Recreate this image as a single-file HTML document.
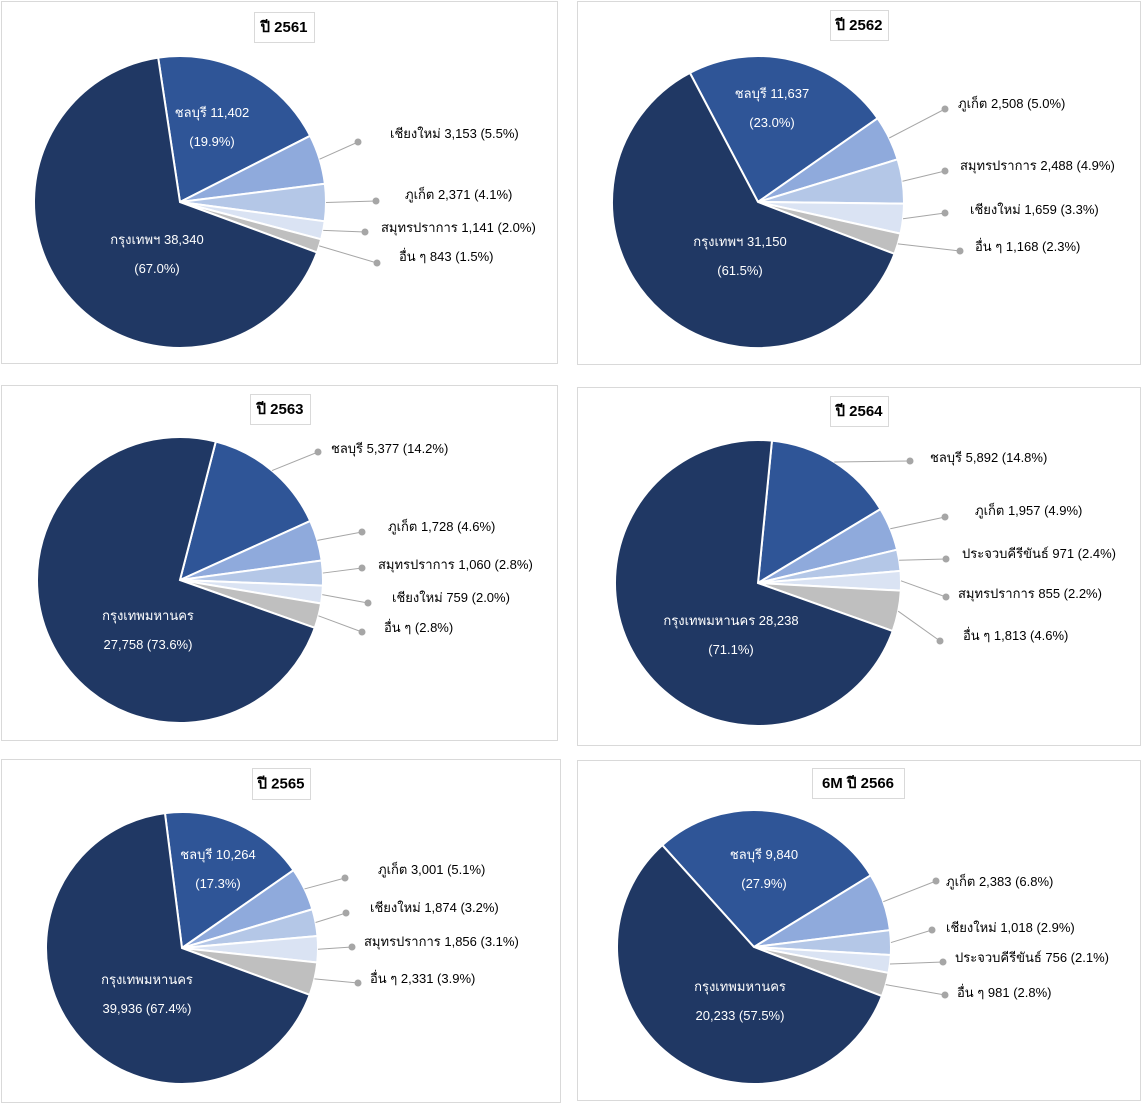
<!DOCTYPE html>
<html><head><meta charset="utf-8">
<style>
html,body{margin:0;padding:0;background:#fff;}
svg{display:block;font-family:"Liberation Sans","DejaVu Sans","Noto Sans CJK SC",sans-serif;}
</style></head>
<body>
<svg id="root" width="1141" height="1103" viewBox="0 0 1141 1103" xmlns="http://www.w3.org/2000/svg"></svg>
<script>
// ---- data (percent shares, clockwise from Chonburi) ----
const c1Names = ["ชลบุรี","เชียงใหม่","ภูเก็ต","สมุทรปราการ","อื่น ๆ","กรุงเทพฯ"];
const c1Values = [19.9,5.5,4.1,2.0,1.5,67.0];
const c1Labels = ["","เชียงใหม่ 3,153 (5.5%)","ภูเก็ต 2,371 (4.1%)","สมุทรปราการ 1,141 (2.0%)","อื่น ๆ 843 (1.5%)",""];
const c1Inner = [["ชลบุรี 11,402","(19.9%)"],null,null,null,null,["กรุงเทพฯ 38,340","(67.0%)"]];

const c2Names = ["ชลบุรี","ภูเก็ต","สมุทรปราการ","เชียงใหม่","อื่น ๆ","กรุงเทพฯ"];
const c2Values = [23.0,5.0,4.9,3.3,2.3,61.5];
const c2Labels = ["","ภูเก็ต 2,508 (5.0%)","สมุทรปราการ 2,488 (4.9%)","เชียงใหม่ 1,659 (3.3%)","อื่น ๆ 1,168 (2.3%)",""];
const c2Inner = [["ชลบุรี 11,637","(23.0%)"],null,null,null,null,["กรุงเทพฯ 31,150","(61.5%)"]];

const c3Names = ["ชลบุรี","ภูเก็ต","สมุทรปราการ","เชียงใหม่","อื่น ๆ","กรุงเทพมหานคร"];
const c3Values = [14.2,4.6,2.8,2.0,2.8,73.6];
const c3Labels = ["ชลบุรี 5,377 (14.2%)","ภูเก็ต 1,728 (4.6%)","สมุทรปราการ 1,060 (2.8%)","เชียงใหม่ 759 (2.0%)","อื่น ๆ (2.8%)",""];
const c3Inner = [null,null,null,null,null,["กรุงเทพมหานคร","27,758 (73.6%)"]];

const c4Names = ["ชลบุรี","ภูเก็ต","ประจวบคีรีขันธ์","สมุทรปราการ","อื่น ๆ","กรุงเทพมหานคร"];
const c4Values = [14.8,4.9,2.4,2.2,4.6,71.1];
const c4Labels = ["ชลบุรี 5,892 (14.8%)","ภูเก็ต 1,957 (4.9%)","ประจวบคีรีขันธ์ 971 (2.4%)","สมุทรปราการ 855 (2.2%)","อื่น ๆ 1,813 (4.6%)",""];
const c4Inner = [null,null,null,null,null,["กรุงเทพมหานคร 28,238","(71.1%)"]];

const c5Names = ["ชลบุรี","ภูเก็ต","เชียงใหม่","สมุทรปราการ","อื่น ๆ","กรุงเทพมหานคร"];
const c5Values = [17.3,5.1,3.2,3.1,3.9,67.4];
const c5Labels = ["","ภูเก็ต  3,001  (5.1%)","เชียงใหม่  1,874  (3.2%)","สมุทรปราการ  1,856  (3.1%)","อื่น ๆ 2,331 (3.9%)",""];
const c5Inner = [["ชลบุรี  10,264","(17.3%)"],null,null,null,null,["กรุงเทพมหานคร","39,936  (67.4%)"]];

const c6Names = ["ชลบุรี","ภูเก็ต","เชียงใหม่","ประจวบคีรีขันธ์","อื่น ๆ","กรุงเทพมหานคร"];
const c6Values = [27.9,6.8,2.9,2.1,2.8,57.5];
const c6Labels = ["","ภูเก็ต  2,383  (6.8%)","เชียงใหม่  1,018  (2.9%)","ประจวบคีรีขันธ์  756  (2.1%)","อื่น ๆ 981 (2.8%)",""];
const c6Inner = [["ชลบุรี  9,840","(27.9%)"],null,null,null,null,["กรุงเทพมหานคร","20,233  (57.5%)"]];

const colors = ["#2F5597","#8FAADC","#B4C7E7","#DAE3F3","#BFBFBF","#203864"];
const NS = "http://www.w3.org/2000/svg";
const root = document.getElementById('root');
function mk(tag, attrs, parent){const e=document.createElementNS(NS,tag);for(const k in attrs)e.setAttribute(k,attrs[k]);parent.appendChild(e);return e;}

const layouts = [
 {names:c1Names,values:c1Values,labels:c1Labels,inner:c1Inner,title:"ปี 2561",panel:[1,1,556,362],tb:[254,12,60,30],cx:180,cy:202,r:146,start:-8.6,
  dots:[null,[358,142],[376,201],[365,232],[377,263]],txt:[null,[390,138],[405,199],[381,232],[399,261]],
  inPos:[[212,117],null,null,null,null,[157,244]]},
 {names:c2Names,values:c2Values,labels:c2Labels,inner:c2Inner,title:"ปี 2562",panel:[577,1,563,363],tb:[830,10,58,30],cx:758,cy:202,r:146,start:-27.8,
  dots:[null,[945,109],[945,171],[945,213],[960,251]],txt:[null,[958,108],[960,170],[970,214],[975,251]],
  inPos:[[772,98],null,null,null,null,[740,246]]},
 {names:c3Names,values:c3Values,labels:c3Labels,inner:c3Inner,title:"ปี 2563",panel:[1,385,556,355],tb:[250,394,60,30],cx:180,cy:580,r:143,start:14.5,
  dots:[[318,452],[362,532],[362,568],[368,603],[362,632]],txt:[[331,453],[388,531],[378,569],[392,602],[384,632]],
  inPos:[null,null,null,null,null,[148,620]]},
 {names:c4Names,values:c4Values,labels:c4Labels,inner:c4Inner,title:"ปี 2564",panel:[577,387,563,358],tb:[830,396,58,30],cx:758,cy:583,r:143,start:5.6,
  dots:[[910,461],[945,517],[946,559],[946,597],[940,641]],txt:[[930,462],[975,515],[962,558],[958,598],[963,640]],
  inPos:[null,null,null,null,null,[731,625]]},
 {names:c5Names,values:c5Values,labels:c5Labels,inner:c5Inner,title:"ปี 2565",panel:[1,759,559,343],tb:[252,768,58,31],cx:182,cy:948,r:136,start:-7.2,
  dots:[null,[345,878],[346,913],[352,947],[358,983]],txt:[null,[378,874],[370,912],[364,946],[370,983]],
  inPos:[[218,859],null,null,null,null,[147,984]]},
 {names:c6Names,values:c6Values,labels:c6Labels,inner:c6Inner,title:"6M ปี 2566",panel:[577,760,563,340],tb:[812,768,92,30],cx:754,cy:947,r:137,start:-42,
  dots:[null,[936,881],[932,930],[943,962],[945,995]],txt:[null,[946,886],[946,932],[955,962],[957,997]],
  inPos:[[764,859],null,null,null,null,[740,991]]}
];

function pt(cx,cy,r,deg){const a=(deg-90)*Math.PI/180;return [cx+r*Math.cos(a),cy+r*Math.sin(a)];}

layouts.forEach((L,ci)=>{
  const g=mk('g',{},root);
  
  
  const pn=mk('rect',{x:L.panel[0]+.5,y:L.panel[1]+.5,width:L.panel[2],height:L.panel[3],fill:'#fff',stroke:'#d9d9d9'},g);
  
  
  const tb=mk('rect',{x:L.tb[0]+.5,y:L.tb[1]+.5,width:L.tb[2],height:L.tb[3],fill:'#fff',stroke:'#d9d9d9'},g);
  
  
  const tt=mk('text',{x:L.tb[0]+L.tb[2]/2,y:L.tb[1]+L.tb[3]/2+5,'text-anchor':'middle','font-size':15,'font-weight':'bold',fill:'#000'},g);
  tt.textContent=L.title;
  
  
  const total=L.values.reduce((a,b)=>a+b,0);
  let ang=L.start;
  L.values.forEach((v,i)=>{
    const sweep=v/total*360;
    const p0=pt(L.cx,L.cy,L.r,ang), p1=pt(L.cx,L.cy,L.r,ang+sweep);
    const large=sweep>180?1:0;
    const s=mk('path',{d:`M${L.cx},${L.cy}L${p0[0]},${p0[1]}A${L.r},${L.r} 0 ${large} 1 ${p1[0]},${p1[1]}Z`,fill:colors[i],stroke:'#fff','stroke-width':2},g);
    
    
    const mid=ang+sweep/2;
    if(L.dots[i]){
      const e=pt(L.cx,L.cy,L.r,mid);
      const ln=mk('line',{x1:e[0],y1:e[1],x2:L.dots[i][0],y2:L.dots[i][1],stroke:'#a6a6a6','stroke-width':1},g);
      
      
      const d=mk('circle',{cx:L.dots[i][0],cy:L.dots[i][1],r:3.5,fill:'#a6a6a6'},g);
      
      
      const t=mk('text',{x:L.txt[i][0],y:L.txt[i][1],'font-size':13,fill:'#000'},g);
      t.textContent=L.labels[i];
      
      
    }
    if(L.inner[i]){
      L.inner[i].forEach((line,k)=>{
        const t=mk('text',{x:L.inPos[i][0],y:L.inPos[i][1]+k*29,'text-anchor':'middle','font-size':13,fill:'#fff'},g);
        t.textContent=line;
        
        
      });
    }
    ang+=sweep;
  });
});
</script>
</body></html>
